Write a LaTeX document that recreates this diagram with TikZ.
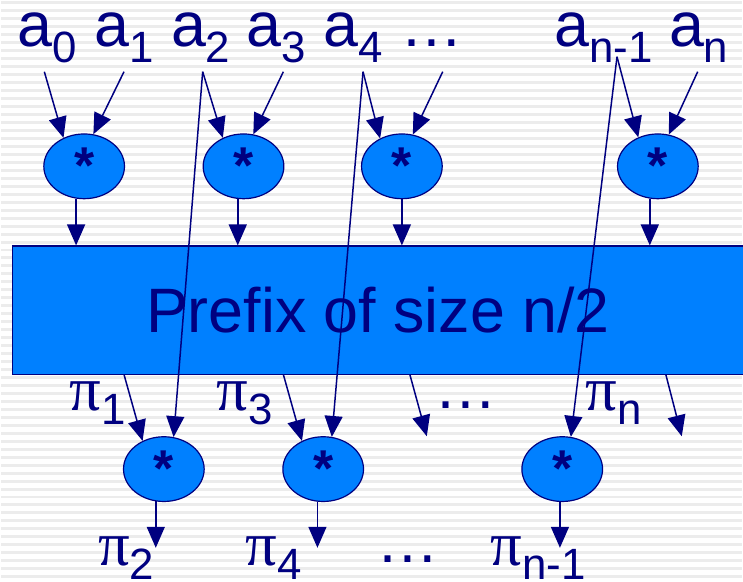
\documentclass[tikz,border=0pt]{standalone}
\usepackage{fontspec}
\setmainfont{Liberation Sans}
\newfontfamily\grk{Liberation Serif}
\usetikzlibrary{arrows.meta,shapes.geometric}
\definecolor{navy}{RGB}{0,0,128}
\definecolor{fillblue}{RGB}{0,128,255}
\definecolor{stripe}{RGB}{236,236,236}
\newcommand\bigf{\fontsize{63}{70}\selectfont}
\newcommand\subf{\fontsize{44}{50}\selectfont}
\newcommand\sbx[2][16pt]{\raisebox{-#1}{\subf #2}}
\newcommand\pii{{\grk π}}
\begin{document}
\begin{tikzpicture}[x=1pt,y=-1pt,
  lab/.style={anchor=base west,inner sep=0pt,text=navy,font=\bigf},
  op/.style={ellipse,draw=navy,fill=fillblue,line width=1.2pt,minimum width=81pt,minimum height=65pt,inner sep=0pt,text=navy,font=\bfseries\fontsize{52}{56}\selectfont,text height=34pt,text depth=0pt},
  arr/.style={draw=navy,line width=1.5pt,-{Triangle[length=21pt,width=18pt]}},
  box/.style={draw=navy,fill=fillblue,line width=1.2pt,minimum width=734pt,minimum height=129pt,inner sep=0pt,text=navy,font=\bigf}]
% background
\fill[white] (0,0) rectangle (743,584);
\foreach \y in {3,11,...,583} \draw[stripe,line width=3pt] (0,\y) -- (743,\y);
\useasboundingbox (0,0) rectangle (743,584);

% prefix box
\node[box] (P) at (378,311.5) {Prefix of size n/2};

% top operators
\node[op] (e1) at (83,167) {*};
\node[op] (e2) at (243,167) {*};
\node[op] (e3) at (402,167) {*};
\node[op] (e4) at (659,167) {*};
% bottom operators
\node[op] (b1) at (163,471) {*};
\node[op] (b2) at (323,471) {*};
\node[op] (b3) at (563,471) {*};

% top labels
\node[lab] (a0) at (16,47) {a\sbx{0}};
\node[lab] (a1) at (93,47) {a\sbx{1}};
\node[lab] (a2) at (170,47) {a\sbx{2}};
\node[lab] (a3) at (246,47) {a\sbx{3}};
\node[lab] (a4) at (323,47) {a\sbx{4}};
\node[lab] (ad) at (400,47) {…};
\node[lab] (an1) at (555,47) {a\sbx{n-1}};
\node[lab] (an) at (670,47) {a\sbx{n}};

% labels under box
\node[lab] (p1) at (68,412) {\pii\sbx[14pt]{1}};
\node[lab] (p3) at (216,412) {\pii\sbx[14pt]{3}};
\node[lab] (pd) at (435,410) {…};
\node[lab] (pn) at (586,412) {\pii\sbx[14pt]{n}};
% bottom labels
\node[lab] (p2) at (97,568) {\pii\sbx[14pt]{2}};
\node[lab] (p4) at (245,568) {\pii\sbx[14pt]{4}};
\node[lab] (qd) at (376,565) {…};
\node[lab] (pn1) at (491,568) {\pii\sbx[14pt]{n-1}};

% arrow start points
\coordinate (s0) at (43,72);
\coordinate (s1) at (123,72);
\coordinate (s2) at (202,72);
\coordinate (s3) at (283,72);
\coordinate (s4) at (363,72);
\coordinate (sd) at (443,72);
\coordinate (sn1) at (618,57);
\coordinate (sn) at (699,72);
\coordinate (r1) at (123,376);
\coordinate (r3) at (283,376);
\coordinate (rd) at (410,376);
\coordinate (rn) at (667,376);
\coordinate (fd) at (427,438);
\coordinate (fn) at (683,438);
\coordinate (low) at (0,550);

% inputs to top operators
\draw[arr] (s0) -- (e1.126);
\draw[arr] (s1) -- (e1.74);
\draw[arr] (s2) -- (e2.126);
\draw[arr] (s3) -- (e2.73);
\draw[arr] (s4) -- (e3.128);
\draw[arr] (sd) -- (e3.71);
\draw[arr] (sn1) -- (e4.124);
\draw[arr] (sn) -- (e4.71);

% top operators into box
\draw[arr] (e1.256) -- (e1.256 |- P.north);
\draw[arr] (e2.260) -- (e2.260 |- P.north);
\draw[arr] (e3.270) -- (e3.270 |- P.north);
\draw[arr] (e4.256) -- (e4.256 |- P.north);

% long lines from even inputs
\draw[arr] (s2) -- (b1.73);
\draw[arr] (s4) -- (b2.75);
\draw[arr] (sn1) -- (b3.75);

% box outputs
\draw[arr] (r1) -- (b1.127);
\draw[arr] (r3) -- (b2.127);
\draw[arr] (rd) -- (fd);
\draw[arr] (rn) -- (fn);

% bottom operators outputs
\draw[arr] (b1.256) -- (b1.256 |- low);
\draw[arr] (b2.260) -- (b2.260 |- low);
\draw[arr] (b3.266) -- (b3.266 |- low);
\end{tikzpicture}
\end{document}
